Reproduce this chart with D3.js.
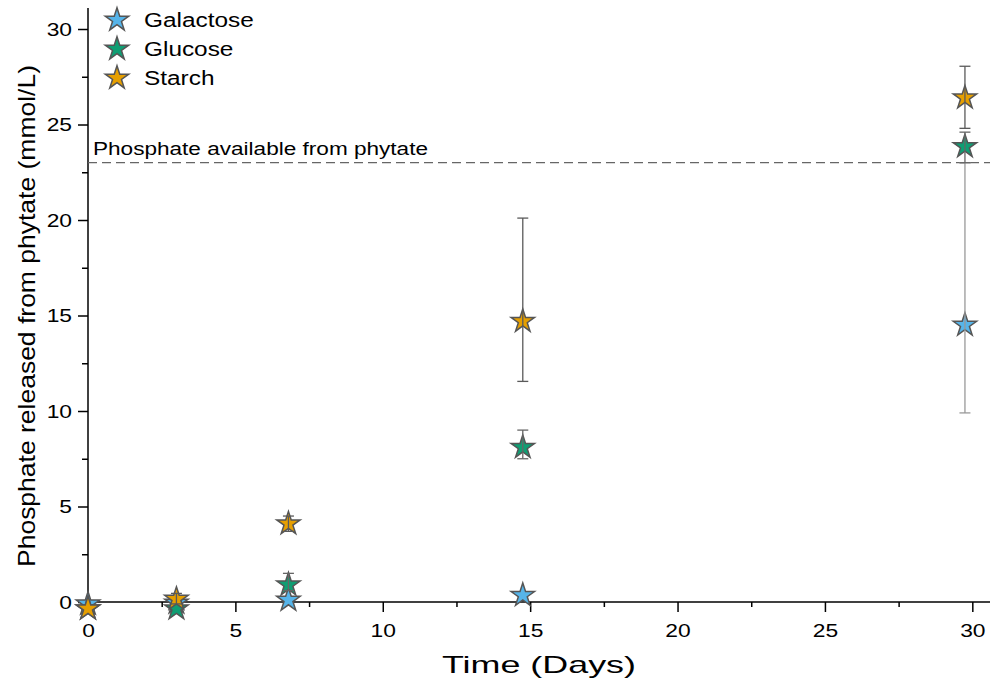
<!DOCTYPE html>
<html>
<head>
<meta charset="utf-8">
<script src="https://cdn.jsdelivr.net/npm/d3@7"></script>
<style>
html,body{margin:0;padding:0;background:#fff;}
text{font-family:"Liberation Sans",Arial,sans-serif;}
</style>
</head>
<body>
<svg id="chart" width="992" height="686"></svg>
<script>
// ---- data ----
const seriesNames = ["Galactose", "Glucose", "Starch"];
const seriesColors = ["#56B4E9", "#0F9E73", "#E69F00"];
const errColors = ["#999999", "#666666", "#5a5a5a"];
const days = [0, 3, 6.8, 14.75, 29.75];
const galactose = [-0.1, -0.05, 0.1, 0.35, 14.5];
const glucose = [-0.35, -0.35, 0.9, 8.1, 23.85];
const starch = [-0.35, 0.15, 4.1, 14.7, 26.4];
// error bar bounds (low, high); null = no bar
const galactoseErrLow = [null, null, null, null, 9.9];
const galactoseErrHigh = [null, null, null, null, 23.0];
const glucoseErrLow = [null, null, 0.6, 7.5, 23.0];
const glucoseErrHigh = [null, null, 1.5, 9.0, 24.6];
const starchErrLow = [null, -0.1, 3.7, 11.55, 24.8];
const starchErrHigh = [null, 0.45, 4.5, 20.1, 28.05];
const xTicks = [0, 5, 10, 15, 20, 25, 30];
const yTicks = [0, 5, 10, 15, 20, 25, 30];
const refValue = 23;
const refLabel = "Phosphate available from phytate";
const xTitle = "Time (Days)";
const yTitle = "Phosphate released from phytate (mmol/L)";

const seriesValues = [galactose, glucose, starch];
const seriesLow = [galactoseErrLow, glucoseErrLow, starchErrLow];
const seriesHigh = [galactoseErrHigh, glucoseErrHigh, starchErrHigh];

const svg = d3.select("#chart");
const x = d3.scaleLinear().domain([0, 30.6]).range([88, 990]);
const y = d3.scaleLinear().domain([0, 31.1]).range([602, 8]);

function stretch(sel, f) {
  sel.each(function () {
    const w = this.getComputedTextLength();
    d3.select(this).attr("textLength", w * f).attr("lengthAdjust", "spacingAndGlyphs");
  });
}

// axes
const xMinor = d3.range(0, 30.6, 2.5).filter(v => v % 5 !== 0);
const yMinor = d3.range(0, 31.1, 2.5).filter(v => v % 5 !== 0);

const gx = svg.append("g").attr("transform", `translate(0,${y(0)})`);
gx.call(d3.axisBottom(x).tickValues(xTicks).tickSize(10).tickPadding(12).tickFormat(d3.format("d")));
gx.append("g").call(d3.axisBottom(x).tickValues(xMinor).tickSize(5).tickFormat(""));
gx.selectAll(".tick line").attr("stroke", "#000").attr("stroke-width", 1.5);
gx.selectAll(".tick text").attr("font-size", 19).attr("fill", "#000").attr("font-family", "Liberation Sans, Arial, sans-serif");
gx.selectAll("g > g .domain").remove();
gx.select(".domain").attr("stroke", "#000").attr("stroke-width", 1.5).attr("d", `M${x(0)},0H${x.range()[1]}`);
stretch(gx.selectAll(".tick text"), 1.2);

const gy = svg.append("g").attr("transform", `translate(${x(0)},0)`);
gy.call(d3.axisLeft(y).tickValues(yTicks).tickSize(10).tickPadding(6).tickFormat(d3.format("d")));
gy.append("g").call(d3.axisLeft(y).tickValues(yMinor).tickSize(6).tickFormat(""));
gy.selectAll(".tick line").attr("stroke", "#000").attr("stroke-width", 1.5);
gy.selectAll(".tick text").attr("font-size", 19).attr("fill", "#000").attr("font-family", "Liberation Sans, Arial, sans-serif");
gy.selectAll("g > g .domain").remove();
gy.select(".domain").attr("stroke", "#000").attr("stroke-width", 1.5).attr("d", `M0,${y.range()[1]}V${y(0)}`);
stretch(gy.selectAll(".tick text"), 1.2);

// reference line
svg.append("line")
  .attr("x1", x(0)).attr("x2", x.range()[1])
  .attr("y1", y(refValue)).attr("y2", y(refValue))
  .attr("stroke", "#666").attr("stroke-width", 1.3).attr("stroke-dasharray", "9,5");
svg.append("text").attr("x", x(0) + 5).attr("y", y(refValue) - 8)
  .attr("font-size", 17.5).attr("fill", "#000").text(refLabel)
  .attr("textLength", 335).attr("lengthAdjust", "spacingAndGlyphs");

// markers
const star = d3.symbol().type(d3.symbolStar).size(170);
seriesValues.forEach((vals, si) => {
  svg.append("g").selectAll("path").data(days.map((d, i) => [d, vals[i]])).join("path")
    .attr("d", star)
    .attr("transform", d => `translate(${x(d[0])},${y(d[1])})`)
    .attr("fill", seriesColors[si]).attr("stroke", "#555").attr("stroke-width", 1.5)
    .attr("stroke-linejoin", "miter");
});

// error bars (drawn on top of markers)
seriesValues.forEach((vals, si) => {
  const g = svg.append("g").attr("stroke", errColors[si]).attr("stroke-width", 1.3);
  days.forEach((d, i) => {
    const lo = seriesLow[si][i], hi = seriesHigh[si][i];
    if (lo == null) return;
    const cx = x(d);
    g.append("line").attr("x1", cx).attr("x2", cx).attr("y1", y(lo)).attr("y2", y(hi));
    g.append("line").attr("x1", cx - 5.5).attr("x2", cx + 5.5).attr("y1", y(lo)).attr("y2", y(lo));
    g.append("line").attr("x1", cx - 5.5).attr("x2", cx + 5.5).attr("y1", y(hi)).attr("y2", y(hi));
  });
});

// axis titles
svg.append("text").attr("x", 539).attr("y", 673).attr("text-anchor", "middle")
  .attr("font-size", 24).attr("fill", "#000").text(xTitle)
  .attr("textLength", 194).attr("lengthAdjust", "spacingAndGlyphs");
svg.append("text").attr("transform", `translate(35,316) rotate(-90)`).attr("text-anchor", "middle")
  .attr("font-size", 24).attr("fill", "#000").text(yTitle)
  .attr("textLength", 502).attr("lengthAdjust", "spacingAndGlyphs");

// legend
const leg = svg.append("g");
seriesNames.forEach((name, i) => {
  const ly = 20 + i * 29;
  leg.append("path").attr("d", star).attr("transform", `translate(117,${ly})`)
    .attr("fill", seriesColors[i]).attr("stroke", "#555").attr("stroke-width", 1.5);
  const t = leg.append("text").attr("x", 144).attr("y", ly).attr("dy", "0.36em")
    .attr("font-size", 19.5).attr("fill", "#000").text(name);
  stretch(t, 1.25);
});
</script>
</body>
</html>
